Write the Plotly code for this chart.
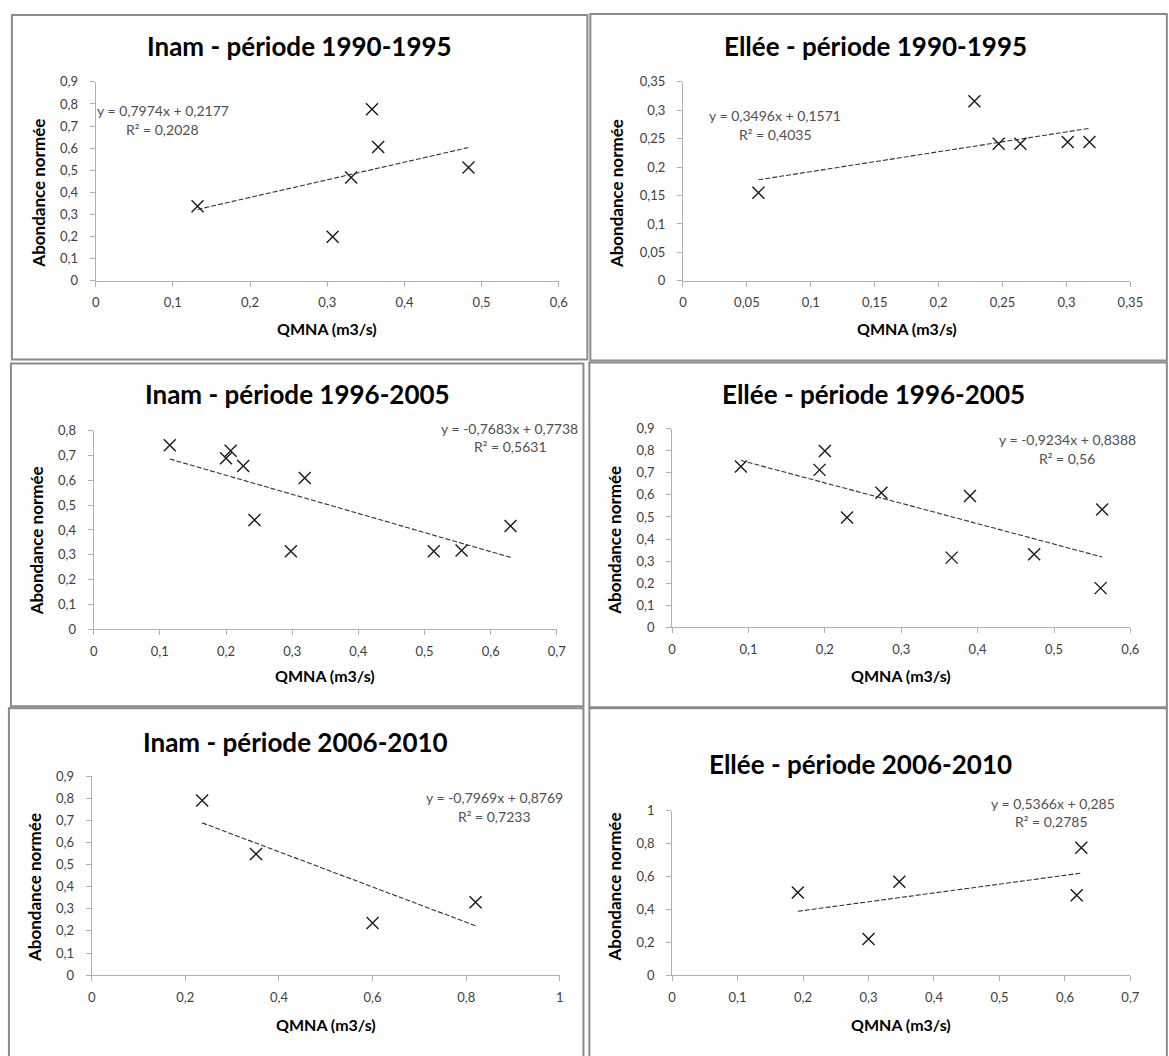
import plotly.graph_objects as go

W, H = 1169, 1056

# ---------------- data ----------------
titles = [
    "Inam - période 1990-1995",
    "Ellée - période 1990-1995",
    "Inam - période 1996-2005",
    "Ellée - période 1996-2005",
    "Inam - période 2006-2010",
    "Ellée - période 2006-2010",
]

inam_9095_q = [0.132, 0.307, 0.331, 0.358, 0.366, 0.483]
inam_9095_a = [0.337, 0.199, 0.467, 0.776, 0.605, 0.513]

ellee_9095_q = [0.059, 0.228, 0.247, 0.264, 0.301, 0.318]
ellee_9095_a = [0.155, 0.316, 0.241, 0.241, 0.244, 0.244]

inam_9605_q = [0.115, 0.200, 0.207, 0.226, 0.243, 0.298, 0.319, 0.514, 0.556, 0.630]
inam_9605_a = [0.741, 0.688, 0.719, 0.657, 0.440, 0.314, 0.609, 0.314, 0.317, 0.416]

ellee_9605_q = [0.090, 0.193, 0.200, 0.229, 0.274, 0.366, 0.390, 0.474, 0.561, 0.563]
ellee_9605_a = [0.728, 0.713, 0.798, 0.498, 0.609, 0.316, 0.595, 0.331, 0.178, 0.534]

inam_0610_q = [0.236, 0.351, 0.600, 0.820]
inam_0610_a = [0.790, 0.548, 0.236, 0.330]

ellee_0610_q = [0.192, 0.300, 0.347, 0.618, 0.625]
ellee_0610_a = [0.502, 0.219, 0.568, 0.486, 0.775]

series_q = [inam_9095_q, ellee_9095_q, inam_9605_q, ellee_9605_q, inam_0610_q, ellee_0610_q]
series_a = [inam_9095_a, ellee_9095_a, inam_9605_a, ellee_9605_a, inam_0610_a, ellee_0610_a]

slopes = [0.7974, 0.3496, -0.7683, -0.9234, -0.7969, 0.5366]
intercepts = [0.2177, 0.1571, 0.7738, 0.8388, 0.8769, 0.285]
eq_texts = [
    "y = 0,7974x + 0,2177",
    "y = 0,3496x + 0,1571",
    "y = -0,7683x + 0,7738",
    "y = -0,9234x + 0,8388",
    "y = -0,7969x + 0,8769",
    "y = 0,5366x + 0,285",
]
r2_texts = ["R² = 0,2028", "R² = 0,4035", "R² = 0,5631", "R² = 0,56", "R² = 0,7233", "R² = 0,2785"]

x_max = [0.6, 0.35, 0.7, 0.6, 1.0, 0.7]
y_max = [0.9, 0.35, 0.8, 0.9, 0.9, 1.0]
x_step = [0.1, 0.05, 0.1, 0.1, 0.2, 0.1]
y_step = [0.1, 0.05, 0.1, 0.1, 0.1, 0.2]

x_title = "QMNA (m3/s)"
y_title = "Abondance normée"

# ---------------- layout geometry (pixels) ----------------
plots = [  # x0, x1, ytop, ybottom
    (93, 563, 75, 277),
    (689, 1143, 75, 277),
    (91, 561, 429, 631),
    (678, 1143, 427, 629),
    (89, 564, 780, 982),
    (678, 1143, 815, 982),
]
title_pos = [(300, 39), (884, 39), (298, 392), (882, 392), (296, 745), (869, 768)]
xtitle_y = [325, 325, 678, 678, 1032, 1032]
ytitle_pos = [(35, 188), (621, 188), (33, 541), (620, 540), (31, 893), (620, 892)]
eq_pos = [(161, 104), (782, 109), (513, 427), (1079, 438), (498, 802), (1064, 808)]
r2_pos = [(161, 123), (783, 128), (514, 445), (1079, 457), (498, 821), (1063, 826)]
borders = [
    (8, 7, 592, 357),
    (595, 6, 1180, 358),
    (7, 361, 588, 709),
    (594, 360, 1180, 710),
    (5, 711, 588, 1070),
    (594, 711, 1180, 1070),
]


def px(x):
    return x / W


def py(y):
    return 1 - y / H


FONT = "Lato"
fig = go.Figure()
annotations = []
shapes = []
layout_axes = {}

for i in range(6):
    n = "" if i == 0 else str(i + 1)
    xa, ya = "x" + n, "y" + n
    q, a = series_q[i], series_a[i]

    fig.add_trace(go.Scatter(
        x=q, y=a, mode="markers", xaxis=xa, yaxis=ya, showlegend=False,
        marker=dict(symbol="x-thin-open", size=12, color="#1a1a1a",
                    line=dict(width=1.4, color="#1a1a1a")),
    ))
    lx = [min(q), max(q)]
    ly = [slopes[i] * v + intercepts[i] for v in lx]
    fig.add_trace(go.Scatter(
        x=lx, y=ly, mode="lines", xaxis=xa, yaxis=ya, showlegend=False,
        line=dict(color="#333333", width=1.1, dash="5px,2px"),
    ))

    x0, x1, yt, yb = plots[i]
    common = dict(
        showgrid=False, zeroline=False, showline=True, linecolor="#b0b0b0", linewidth=1,
        ticks="outside", ticklen=5, tickcolor="#b0b0b0", tickwidth=1,
        tickfont=dict(family=FONT, size=13, color="#404040"),
        fixedrange=True,
    )
    layout_axes["xaxis" + n] = dict(
        common, domain=[px(x0), px(x1)], anchor=ya, range=[0, x_max[i]],
        tick0=0, dtick=x_step[i], ticklabelstandoff=5,
    )
    layout_axes["yaxis" + n] = dict(
        common, domain=[py(yb), py(yt)], anchor=xa, range=[0, y_max[i]],
        tick0=0, dtick=y_step[i], ticklabelstandoff=9,
    )

    tx, ty = title_pos[i]
    annotations.append(dict(text="<b>%s</b>" % titles[i], x=px(tx), y=py(ty), xref="paper", yref="paper",
                            showarrow=False, xanchor="center", yanchor="middle",
                            font=dict(family=FONT, size=26, color="#000000")))
    annotations.append(dict(text="<b>%s</b>" % x_title, x=px((x0 + x1) / 2), y=py(xtitle_y[i]),
                            xref="paper", yref="paper", showarrow=False, xanchor="center", yanchor="middle",
                            font=dict(family=FONT, size=16, color="#000000")))
    yx, yy = ytitle_pos[i]
    annotations.append(dict(text="<b>%s</b>" % y_title, x=px(yx), y=py(yy), xref="paper", yref="paper",
                            showarrow=False, xanchor="center", yanchor="middle", textangle=-90,
                            font=dict(family=FONT, size=17, color="#000000")))
    ex, ey = eq_pos[i]
    annotations.append(dict(text=eq_texts[i], x=px(ex), y=py(ey), xref="paper", yref="paper",
                            showarrow=False, xanchor="center", yanchor="middle",
                            font=dict(family=FONT, size=14, color="#505050")))
    rx, ry = r2_pos[i]
    annotations.append(dict(text=r2_texts[i], x=px(rx), y=py(ry), xref="paper", yref="paper",
                            showarrow=False, xanchor="center", yanchor="middle",
                            font=dict(family=FONT, size=14, color="#505050")))

    bx0, by0, bx1, by1 = borders[i]
    shapes.append(dict(type="rect", xref="paper", yref="paper",
                       x0=px(bx0), x1=px(bx1), y0=py(by1), y1=py(by0),
                       line=dict(color="#8a8a8a", width=2), fillcolor="rgba(0,0,0,0)", layer="below"))

fig.update_layout(
    width=W, height=H, margin=dict(l=0, r=0, t=0, b=0),
    paper_bgcolor="white", plot_bgcolor="white",
    separators=", ",
    annotations=annotations, shapes=shapes,
    font=dict(family=FONT),
    **layout_axes,
)

fig.write_html("out.html")
